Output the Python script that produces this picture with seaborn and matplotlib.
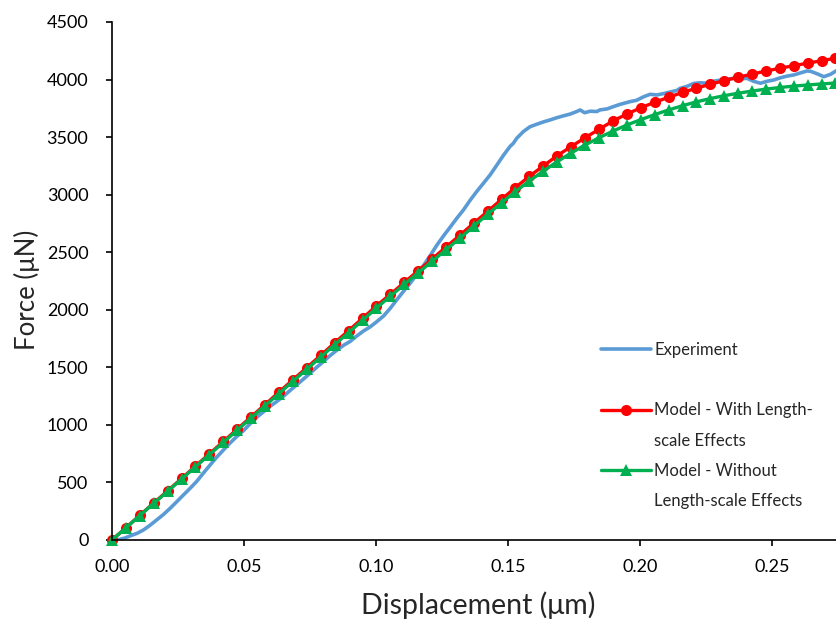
import matplotlib
matplotlib.use("Agg")
import matplotlib.pyplot as plt
from matplotlib.lines import Line2D
import seaborn as sns
import pandas as pd

# ---------------- data ----------------
exp_disp = [0.0018, 0.0030, 0.0050, 0.0068, 0.0095, 0.0119, 0.0144, 0.0169, 0.0195, 0.0220,
            0.0245, 0.0270, 0.0295, 0.0320, 0.0345, 0.0371, 0.0396, 0.0422, 0.0447, 0.0472,
            0.0498, 0.0523, 0.0548, 0.0573, 0.0598, 0.0624, 0.0649, 0.0674, 0.0699, 0.0724,
            0.0750, 0.0775, 0.0800, 0.0825, 0.0851, 0.0876, 0.0902, 0.0927, 0.0952, 0.0977,
            0.1002, 0.1028, 0.1053, 0.1078, 0.1104, 0.1129, 0.1154, 0.1180, 0.1205, 0.1230,
            0.1255, 0.1280, 0.1305, 0.1331, 0.1356, 0.1381, 0.1407, 0.1432, 0.1457, 0.1482,
            0.1508, 0.1520, 0.1533, 0.1558, 0.1583, 0.1609, 0.1634, 0.1659, 0.1684, 0.1710,
            0.1735, 0.1760, 0.1773, 0.1790, 0.1811, 0.1836, 0.1848, 0.1875, 0.1899, 0.1925,
            0.1962, 0.1987, 0.2013, 0.2038, 0.2063, 0.2089, 0.2114, 0.2139, 0.2152, 0.2177,
            0.2203, 0.2228, 0.2253, 0.2278, 0.2304, 0.2329, 0.2354, 0.2380, 0.2405, 0.2430,
            0.2456, 0.2481, 0.2506, 0.2531, 0.2557, 0.2582, 0.2608, 0.2633, 0.2646, 0.2671,
            0.2696, 0.2721, 0.2746]
exp_force = [0, 6, 18, 35, 58, 87, 128, 174, 222, 275,
             332, 390, 447, 507, 578, 650, 718, 782, 842, 898,
             950, 1010, 1066, 1112, 1160, 1203, 1248, 1298, 1347, 1396,
             1448, 1500, 1549, 1600, 1648, 1690, 1725, 1772, 1815, 1850,
             1895, 1945, 2010, 2085, 2160, 2230, 2305, 2385, 2470, 2560,
             2640, 2715, 2792, 2867, 2950, 3026, 3100, 3171, 3255, 3340,
             3420, 3446, 3490, 3548, 3590, 3612, 3632, 3649, 3668, 3685,
             3700, 3722, 3736, 3712, 3725, 3722, 3736, 3745, 3765, 3785,
             3808, 3820, 3850, 3872, 3866, 3878, 3892, 3905, 3924, 3940,
             3966, 3972, 3968, 3985, 3995, 4003, 4010, 4006, 4011, 3985,
             3968, 3985, 3996, 4015, 4030, 4040, 4058, 4075, 4072, 4050,
             4025, 4045, 4080]

model_disp = [0.0, 0.0053, 0.0105, 0.0158, 0.0211, 0.0264, 0.0316, 0.0369, 0.0422, 0.0474,
              0.0527, 0.0580, 0.0632, 0.0685, 0.0738, 0.0791, 0.0843, 0.0896, 0.0949, 0.1001,
              0.1054, 0.1107, 0.1159, 0.1212, 0.1265, 0.1318, 0.1370, 0.1423, 0.1476, 0.1528,
              0.1581, 0.1634, 0.1686, 0.1739, 0.1792, 0.1845, 0.1897, 0.1950, 0.2003, 0.2055,
              0.2108, 0.2161, 0.2213, 0.2266, 0.2319, 0.2371, 0.2424, 0.2477, 0.2530, 0.2582,
              0.2635, 0.2688, 0.2740]
with_ls_force = [0, 107, 214, 321, 428, 535, 642, 749, 856, 963,
                 1070, 1177, 1284, 1391, 1498, 1605, 1712, 1819, 1926, 2033,
                 2134, 2237, 2338, 2440, 2545, 2648, 2752, 2855, 2960, 3062,
                 3160, 3250, 3338, 3418, 3495, 3568, 3640, 3700, 3755, 3802,
                 3846, 3888, 3925, 3959, 3991, 4020, 4047, 4074, 4098, 4121,
                 4142, 4164, 4185]
without_ls_force = [0, 106, 212, 318, 424, 530, 636, 742, 848, 954,
                    1060, 1166, 1272, 1378, 1484, 1590, 1696, 1802, 1908, 2014,
                    2118, 2220, 2320, 2420, 2522, 2622, 2726, 2830, 2930, 3027,
                    3120, 3205, 3287, 3362, 3432, 3495, 3552, 3605, 3652, 3695,
                    3736, 3773, 3806, 3835, 3860, 3881, 3900, 3917, 3931, 3943,
                    3953, 3962, 3970]

x_ticks = [0.00, 0.05, 0.10, 0.15, 0.20, 0.25]
x_tick_labels = ["0.00", "0.05", "0.10", "0.15", "0.20", "0.25"]
y_ticks = [0, 500, 1000, 1500, 2000, 2500, 3000, 3500, 4000, 4500]

label_exp = "Experiment"
label_with = ["Model - With Length-", "scale Effects"]
label_without = ["Model - Without", "Length-scale Effects"]

# ---------------- style ----------------
sns.set_style("ticks")
plt.rcParams['font.family'] = ['Lato', 'DejaVu Sans']

c_blue = "#5B9BD5"
c_red = "#FF0000"
c_green = "#00B050"

fig = plt.figure(figsize=(8.37, 6.26), dpi=100)
ax = fig.add_axes([112 / 837, 1 - 540 / 626, 1 - 112 / 837, (540 - 22) / 626])

df_exp = pd.DataFrame({"d": exp_disp, "f": exp_force})
df_mod = pd.DataFrame({"d": model_disp, "w": with_ls_force, "wo": without_ls_force})

ms_red = 8.0
ms_green = 9.0

sns.lineplot(data=df_exp, x="d", y="f", ax=ax, color=c_blue, lw=2.6, sort=False,
             estimator=None)
sns.lineplot(data=df_mod, x="d", y="w", ax=ax, color=c_red, lw=2.4, sort=False,
             estimator=None, marker="o", markersize=ms_red, markeredgewidth=0, clip_on=False)
sns.lineplot(data=df_mod, x="d", y="wo", ax=ax, color=c_green, lw=2.4, sort=False,
             estimator=None, marker="^", markersize=ms_green, markeredgewidth=0, clip_on=False)

ax.set_xlim(0, 0.2746)
ax.set_ylim(0, 4500)
ax.set_xticks(x_ticks)
ax.set_xticklabels(x_tick_labels)
ax.set_yticks(y_ticks)
ax.tick_params(axis="both", direction="out", length=4.5, width=1.2, labelsize=13,
               colors="black")
ax.tick_params(axis="y", pad=12.5)
ax.tick_params(axis="x", pad=9)
for s in ["top", "right"]:
    ax.spines[s].set_visible(False)
for s in ["left", "bottom"]:
    ax.spines[s].set_linewidth(1.2)
    ax.spines[s].set_color("black")

ax.set_xlabel("Displacement (\u03bcm)", fontsize=20.5)
ax.set_ylabel("Force (\u03bcN)", fontsize=18.5)
ax.yaxis.set_label_coords(-0.100, 0.483)
ax.xaxis.set_label_coords(0.505, -0.100)

blank = Line2D([], [], linestyle="none")
h_exp = Line2D([], [], color=c_blue, lw=2.6)
h_with = Line2D([], [], color=c_red, lw=2.4, marker="o", markersize=ms_red, markeredgewidth=0)
h_wo = Line2D([], [], color=c_green, lw=2.4, marker="^", markersize=ms_green, markeredgewidth=0)
handles = [h_exp, blank, h_with, blank, h_wo, blank]
labels = [label_exp, " ", label_with[0], label_with[1], label_without[0], label_without[1]]
leg = ax.legend(handles, labels, loc="upper left", bbox_to_anchor=(0.6745, 0.382),
                frameon=False, fontsize=12, handlelength=3.0, handletextpad=0.2,
                labelspacing=0.85, borderpad=0, borderaxespad=0)

fig.savefig("out.png", dpi=100)
